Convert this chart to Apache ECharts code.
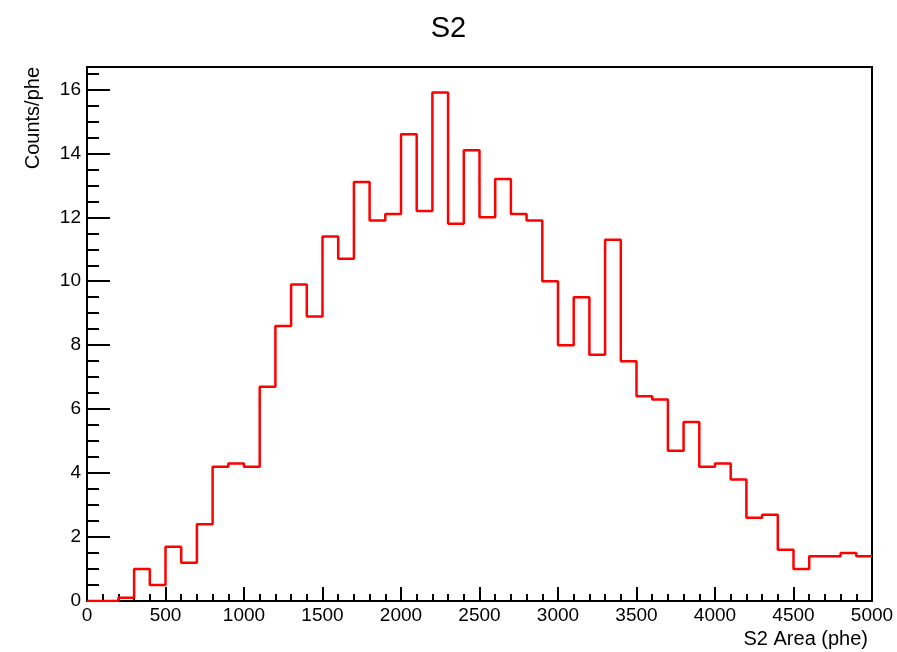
<!DOCTYPE html>
<html>
<head>
<meta charset="utf-8">
<script src="https://cdn.jsdelivr.net/npm/echarts@6/dist/echarts.min.js"></script>
<style>
  html, body { margin: 0; padding: 0; background: #fff; }
  #chart { width: 897px; height: 652px; }
</style>
</head>
<body>
<div id="chart"></div>
<script>
// ---- data ----
const chartTitle = 'S2';
const xTitle = 'S2 Area (phe)';
const yTitle = 'Counts/phe';
const binStart = 0;
const binWidth = 100;
const counts = [
  0, 0, 0.1, 1.0, 0.5, 1.7, 1.2, 2.4, 4.2, 4.3,
  4.2, 6.7, 8.6, 9.9, 8.9, 11.4, 10.7, 13.1, 11.9, 12.1,
  14.6, 12.2, 15.9, 11.8, 14.1, 12.0, 13.2, 12.1, 11.9, 10.0,
  8.0, 9.5, 7.7, 11.3, 7.5, 6.4, 6.3, 4.7, 5.6, 4.2,
  4.3, 3.8, 2.6, 2.7, 1.6, 1.0, 1.4, 1.4, 1.5, 1.4
];
const xMin = 0, xMax = 5000, xStep = 500;
const yMin = 0, yMax = 16.7, yStep = 2, yMinorStep = 0.5;

// step-line points at bin edges (left edges + closing right edge)
const stepData = counts.map((v, i) => [binStart + i * binWidth, v]);
stepData.push([binStart + counts.length * binWidth, counts[counts.length - 1]]);

const font = '"Liberation Sans", Arial, Helvetica, sans-serif';
const chart = echarts.init(document.getElementById('chart'), null, { renderer: 'canvas' });

const grid = { left: 87, right: 25, top: 67, bottom: 51 };

chart.setOption({
  animation: false,
  backgroundColor: '#ffffff',
  title: {
    text: chartTitle,
    left: 'center',
    top: 9,
    textStyle: { fontFamily: font, fontSize: 29, fontWeight: 'normal', color: '#000' }
  },
  grid: Object.assign({ show: true, borderColor: '#000', borderWidth: 2, backgroundColor: 'transparent' }, grid),
  xAxis: [{
    type: 'value',
    min: xMin, max: xMax, interval: xStep,
    axisLine: { show: true, onZero: false, lineStyle: { color: '#000', width: 2 } },
    axisTick: { show: true, inside: true, length: 14, lineStyle: { color: '#000', width: 2 } },
    minorTick: { show: true, splitNumber: 5, length: 7, lineStyle: { color: '#000', width: 2 } },
    splitLine: { show: false },
    axisLabel: { fontFamily: font, fontSize: 19, color: '#000', margin: 5, formatter: v => String(v) }
  }],
  yAxis: [{
    type: 'value',
    min: yMin, max: yMax, interval: yStep,
    axisLine: { show: true, onZero: false, lineStyle: { color: '#000', width: 2 } },
    axisTick: { show: true, inside: true, length: 23, lineStyle: { color: '#000', width: 2 } },
    splitLine: { show: false },
    axisLabel: { fontFamily: font, fontSize: 19, color: '#000', margin: 6, showMaxLabel: false, formatter: v => String(v) }
  }, {
    type: 'value',
    position: 'left',
    min: yMin, max: yMax, interval: yMinorStep,
    axisLine: { show: false },
    axisTick: { show: true, inside: true, length: 12, lineStyle: { color: '#000', width: 2 } },
    splitLine: { show: false },
    axisLabel: { show: false }
  }],
  graphic: [{
    type: 'text',
    right: 29, top: 629,
    style: { text: xTitle, fontFamily: font, fontSize: 20, fill: '#000' }
  }, {
    type: 'text',
    x: 33, y: 67,
    rotation: Math.PI / 2,
    style: { text: yTitle, fontFamily: font, fontSize: 20, fill: '#000', align: 'right', verticalAlign: 'middle' }
  }],
  series: [{
    type: 'line',
    xAxisIndex: 0, yAxisIndex: 0,
    step: 'end',
    symbol: 'none',
    data: stepData,
    lineStyle: { color: '#ff0000', width: 2.5 },
    clip: true
  }]
});
</script>
</body>
</html>
